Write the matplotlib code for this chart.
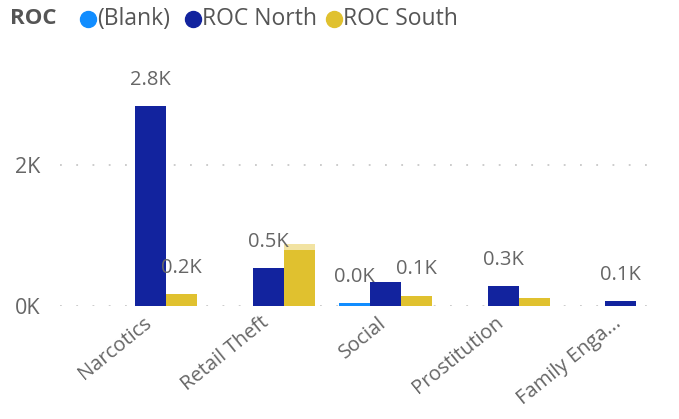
import matplotlib
matplotlib.use("Agg")
import matplotlib.pyplot as plt
import matplotlib.transforms as mtransforms
import numpy as np

categories = ["Narcotics", "Retail Theft", "Social", "Prostitution", "Family Enga..."]
series_names = ["(Blank)", "ROC North", "ROC South"]
blank = [0, 0, 40, 0, 0]
north = [2840, 540, 335, 285, 70]
south = [170, 790, 145, 110, 0]
south_highlight = [0, 880, 0, 0, 0]   # lighter cap drawn on top of Retail Theft south bar
# which bars carry a data label
label_blank = [False, False, True, False, False]
label_north = [True, True, False, True, True]
label_south = [True, False, True, False, False]
yticks = [0, 2000]
ytick_labels = ["0K", "2K"]

colors = ["#118DFF", "#12239E", "#E0C12F"]
light_south = "#F2E3A2"
text_gray = "#666666"
FONT = ["Open Sans", "DejaVu Sans"]
plt.rcParams['font.family'] = FONT

fig = plt.figure(figsize=(6.79, 4.19), dpi=100)
ax = fig.add_axes([0.0884, 0.2697, 0.869, 0.5633])

x = np.arange(len(categories))
w = 0.264
series = [blank, north, south]
labels_on = [label_blank, label_north, label_south]

for k, (vals, col) in enumerate(zip(series, colors)):
    pos = x + (k - 1) * w
    if k == 2:
        ax.bar(pos, south_highlight, width=w, color=light_south, zorder=2, linewidth=0)
    ax.bar(pos, vals, width=w, color=col, zorder=3, linewidth=0)
    for i, v in enumerate(vals):
        if labels_on[k][i]:
            ax.annotate(f"{v/1000:.1f}K", (pos[i], v),
                        xytext=(0, 19), textcoords="offset points",
                        ha="center", va="center", fontsize=14.5, color=text_gray, zorder=5)

ax.set_xlim(-0.77, 4.25)
ax.set_ylim(0, 3350)
ax.set_yticks(yticks)
ax.set_yticklabels(ytick_labels)
ax.set_xticks(x)
ax.set_xticklabels(categories, rotation=39, ha="right", rotation_mode="anchor")
ax.tick_params(axis="both", length=0, colors=text_gray, labelsize=14.5)
ax.tick_params(axis="y", pad=14, labelsize=15.5)
ax.tick_params(axis="x", pad=5)
shift = mtransforms.ScaledTranslation(-8 / 100, 0, fig.dpi_scale_trans)
for lab in ax.get_xticklabels():
    lab.set_transform(lab.get_transform() + shift)
for s in ax.spines.values():
    s.set_visible(False)
for t in yticks:
    ax.axhline(t, color="#C8C8C8", linestyle=(0, (1, 8)), linewidth=1.3, zorder=1)

# legend
ly = 1 - 19 / 419
fig.text(10 / 679, ly, "ROC", fontsize=16, fontweight="bold", color="#555555", va="center")
lx = [88, 193, 334]
for name, col, px in zip(series_names, colors, lx):
    fig.lines.append(plt.Line2D([px / 679], [ly], marker="o", markersize=11.5,
                                color=col, transform=fig.transFigure, linestyle="none"))
    fig.text((px + 9) / 679, ly, name, fontsize=16.5, color="#555555", va="center")

fig.savefig("out.png", dpi=100)
